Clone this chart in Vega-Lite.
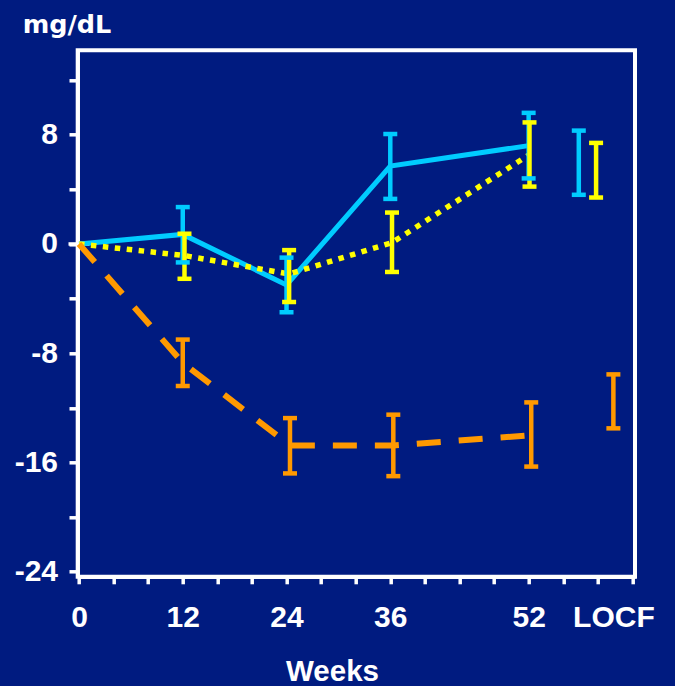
{
  "$schema": "https://vega.github.io/schema/vega-lite/v6.json",
  "width": 557.3,
  "height": 526.5,
  "autosize": "none",
  "padding": {"left": 77.7, "top": 50.3, "right": 40, "bottom": 109.2},
  "background": "#001b80",
  "config": {
    "view": {"stroke": "#ffffff", "strokeWidth": 4},
    "font": "Liberation Sans"
  },
  "datasets": {
    "ldl": [
      {"arm": "A", "visit": "0", "week": 0, "mean": 0},
      {"arm": "A", "visit": "12", "week": 12, "mean": 0.7, "lo": -1.35, "hi": 2.7},
      {"arm": "A", "visit": "24", "week": 24, "mean": -3.0, "lo": -5.0, "hi": -1.0},
      {"arm": "A", "visit": "36", "week": 36, "mean": 5.7, "lo": 3.3, "hi": 8.05},
      {"arm": "A", "visit": "52", "week": 52, "mean": 7.2, "lo": 4.8, "hi": 9.6},
      {"arm": "A", "visit": "LOCF", "week": 57.8, "mean": 5.95, "lo": 3.6, "hi": 8.3},
      {"arm": "B", "visit": "0", "week": 0, "mean": 0},
      {"arm": "B", "visit": "12", "week": 12.2, "mean": -0.85, "lo": -2.55, "hi": 0.75},
      {"arm": "B", "visit": "24", "week": 24.3, "mean": -2.2, "lo": -4.25, "hi": -0.45},
      {"arm": "B", "visit": "36", "week": 36.2, "mean": 0.1, "lo": -2.05, "hi": 2.3},
      {"arm": "B", "visit": "52", "week": 52.1, "mean": 6.55, "lo": 4.2, "hi": 8.9},
      {"arm": "B", "visit": "LOCF", "week": 59.8, "mean": 5.4, "lo": 3.4, "hi": 7.4},
      {"arm": "C", "visit": "0", "week": 0, "mean": 0},
      {"arm": "C", "visit": "12", "week": 12, "mean": -8.7, "lo": -10.4, "hi": -7.0},
      {"arm": "C", "visit": "24", "week": 24.4, "mean": -14.75, "lo": -16.8, "hi": -12.75},
      {"arm": "C", "visit": "36", "week": 36.35, "mean": -14.75, "lo": -17.0, "hi": -12.5},
      {"arm": "C", "visit": "52", "week": 52.3, "mean": -14.0, "lo": -16.3, "hi": -11.6},
      {"arm": "C", "visit": "LOCF", "week": 61.8, "mean": -11.5, "lo": -13.5, "hi": -9.55}
    ]
  },
  "data": {"name": "ldl"},
  "encoding": {
    "x": {
      "field": "week",
      "type": "quantitative",
      "title": "Weeks",
      "scale": {"domain": [-0.15, 64.3], "nice": false, "zero": false},
      "axis": {
        "values": [0, 4, 8, 12, 16, 20, 24, 28, 32, 36, 40, 44, 48, 52, 56, 60, 64, 61.8],
        "labelExpr": "datum.value === 61.8 ? 'LOCF' : ((datum.value === 0 || datum.value === 12 || datum.value === 24 || datum.value === 36 || datum.value === 52) ? '' + datum.value : '')",
        "tickOpacity": {"condition": {"test": "datum.value === 61.8", "value": 0}, "value": 1},
        "grid": false,
        "domainColor": "#ffffff",
        "domainWidth": 3.5,
        "tickColor": "#ffffff",
        "tickWidth": 3.5,
        "tickSize": 7,
        "labelPadding": 18.5,
        "labelColor": "#ffffff",
        "labelFont": "Liberation Sans",
        "labelFontSize": 30,
        "labelFontWeight": "bold",
        "labelOverlap": false,
        "labelFlush": false,
        "labelBound": false,
        "titleColor": "#ffffff",
        "titleFont": "Liberation Sans",
        "titleFontSize": 29.5,
        "titleFontWeight": "bold",
        "titleAlign": "center",
        "titleBaseline": "alphabetic",
        "titleX": 254.3,
        "titleY": 104
      }
    }
  },
  "resolve": {"axis": {"y": "independent"}},
  "layer": [
    {
      "transform": [{"filter": "datum.week === 0 && datum.arm === 'A'"}],
      "mark": {"type": "tick", "orient": "horizontal", "size": 21, "thickness": 3.5, "color": "#ffffff", "opacity": 1},
      "encoding": {
        "y": {
          "field": "mean",
          "type": "quantitative",
          "title": "mg/dL",
          "scale": {"domain": [-24.37, 14.18], "nice": false, "zero": false},
          "axis": {
            "values": [-24, -20, -16, -12, -8, -4, 0, 4, 8, 12],
            "labelExpr": "datum.value % 8 === 0 ? '' + datum.value : ''",
            "grid": false,
            "domainColor": "#ffffff",
            "domainWidth": 3.5,
            "tickColor": "#ffffff",
            "tickWidth": 3.5,
            "tickSize": 8.7,
            "labelPadding": 11.5,
            "labelColor": "#ffffff",
            "labelFont": "Liberation Sans",
            "labelFontSize": 30,
            "labelFontWeight": "bold",
            "labelOverlap": false,
            "labelFlush": false,
            "labelBound": false,
            "titleColor": "#ffffff",
            "titleFont": "DejaVu Sans",
            "titleFontSize": 25.5,
            "titleFontWeight": "bold",
            "titleAngle": 0,
            "titleAlign": "left",
            "titleBaseline": "alphabetic",
            "titleX": -55.5,
            "titleY": -17.5
          }
        }
      }
    },
    {
      "transform": [{"filter": "datum.arm === 'A' && datum.visit !== 'LOCF'"}],
      "mark": {"type": "line", "color": "#00ccff", "strokeWidth": 5, "strokeCap": "butt"},
      "encoding": {
        "y": {"field": "mean", "type": "quantitative", "scale": {"domain": [-24.37, 14.18], "nice": false, "zero": false}, "axis": null}
      }
    },
    {
      "transform": [{"filter": "datum.arm === 'B' && datum.visit !== 'LOCF'"}],
      "mark": {"type": "line", "color": "#ffff00", "strokeWidth": 5.5, "strokeCap": "butt", "strokeDash": [5.5, 6.5]},
      "encoding": {
        "y": {"field": "mean", "type": "quantitative", "scale": {"domain": [-24.37, 14.18], "nice": false, "zero": false}, "axis": null}
      }
    },
    {
      "transform": [{"filter": "datum.arm === 'C' && datum.visit !== 'LOCF'"}],
      "mark": {"type": "line", "color": "#ff9900", "strokeWidth": 6, "strokeCap": "butt", "strokeDash": [24, 18]},
      "encoding": {
        "y": {"field": "mean", "type": "quantitative", "scale": {"domain": [-24.37, 14.18], "nice": false, "zero": false}, "axis": null}
      }
    },
    {
      "transform": [{"filter": "isValid(datum.lo)"}],
      "mark": {"type": "rule", "strokeWidth": 4.5},
      "encoding": {
        "y": {"field": "lo", "type": "quantitative", "scale": {"domain": [-24.37, 14.18], "nice": false, "zero": false}, "axis": null},
        "y2": {"field": "hi"},
        "color": {"field": "arm", "type": "nominal", "scale": {"domain": ["A", "B", "C"], "range": ["#00ccff", "#ffff00", "#ff9900"]}, "legend": null}
      }
    },
    {
      "transform": [{"filter": "isValid(datum.lo)"}],
      "mark": {"type": "tick", "orient": "horizontal", "size": 14, "thickness": 4.5, "opacity": 1},
      "encoding": {
        "y": {"field": "lo", "type": "quantitative", "scale": {"domain": [-24.37, 14.18], "nice": false, "zero": false}, "axis": null},
        "color": {"field": "arm", "type": "nominal", "scale": {"domain": ["A", "B", "C"], "range": ["#00ccff", "#ffff00", "#ff9900"]}, "legend": null}
      }
    },
    {
      "transform": [{"filter": "isValid(datum.hi)"}],
      "mark": {"type": "tick", "orient": "horizontal", "size": 14, "thickness": 4.5, "opacity": 1},
      "encoding": {
        "y": {"field": "hi", "type": "quantitative", "scale": {"domain": [-24.37, 14.18], "nice": false, "zero": false}, "axis": null},
        "color": {"field": "arm", "type": "nominal", "scale": {"domain": ["A", "B", "C"], "range": ["#00ccff", "#ffff00", "#ff9900"]}, "legend": null}
      }
    }
  ]
}
